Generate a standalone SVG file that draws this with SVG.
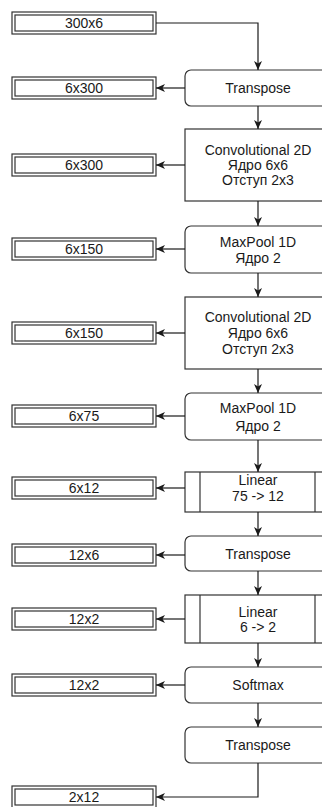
<svg xmlns="http://www.w3.org/2000/svg" width="322" height="807" viewBox="0 0 322 807">
<style>
text{font-family:"Liberation Sans",Arial,sans-serif;font-size:14px;fill:#1a1a1a;text-anchor:middle}
.node{fill:#fff;stroke:#333;stroke-width:1.2}
.dbl{fill:none;stroke:#333;stroke-width:1.2}
.edge{fill:none;stroke:#1a1a1a;stroke-width:1.2}
</style>
<defs>
<marker id="arr" markerUnits="userSpaceOnUse" markerWidth="10" markerHeight="10" refX="9" refY="4" orient="auto">
<path d="M0,0 L9,4 L0,8 L2.5,4 z" fill="#1a1a1a"/>
</marker>
</defs>
<rect width="322" height="807" fill="#fff"/>

<g id="d-300x6"><rect class="node" x="12" y="12" width="144" height="22"/><rect class="dbl" x="15" y="15" width="138" height="16"/><text x="84" y="28">300x6</text></g>
<g id="d-6x300a"><rect class="node" x="12" y="77" width="144" height="22"/><rect class="dbl" x="15" y="80" width="138" height="16"/><text x="84" y="93">6x300</text></g>
<g id="d-6x300b"><rect class="node" x="12" y="154" width="144" height="22"/><rect class="dbl" x="15" y="157" width="138" height="16"/><text x="84" y="170">6x300</text></g>
<g id="d-6x150a"><rect class="node" x="12" y="238" width="144" height="22"/><rect class="dbl" x="15" y="241" width="138" height="16"/><text x="84" y="254">6x150</text></g>
<g id="d-6x150b"><rect class="node" x="12" y="322" width="144" height="22"/><rect class="dbl" x="15" y="325" width="138" height="16"/><text x="84" y="338">6x150</text></g>
<g id="d-6x75"><rect class="node" x="12" y="405" width="144" height="22"/><rect class="dbl" x="15" y="408" width="138" height="16"/><text x="84" y="421">6x75</text></g>
<g id="d-6x12"><rect class="node" x="12" y="477" width="144" height="22"/><rect class="dbl" x="15" y="480" width="138" height="16"/><text x="84" y="493">6x12</text></g>
<g id="d-12x6"><rect class="node" x="12" y="544" width="144" height="22"/><rect class="dbl" x="15" y="547" width="138" height="16"/><text x="84" y="560">12x6</text></g>
<g id="d-12x2a"><rect class="node" x="12" y="608" width="144" height="22"/><rect class="dbl" x="15" y="611" width="138" height="16"/><text x="84" y="624">12x2</text></g>
<g id="d-12x2b"><rect class="node" x="12" y="674" width="144" height="22"/><rect class="dbl" x="15" y="677" width="138" height="16"/><text x="84" y="690">12x2</text></g>
<g id="d-2x12"><rect class="node" x="12" y="786" width="144" height="22"/><rect class="dbl" x="15" y="789" width="138" height="16"/><text x="84" y="802">2x12</text></g>

<g id="n-transpose1"><rect class="node" x="185" y="70" width="146" height="36" rx="6"/><text x="258" y="93">Transpose</text></g>
<g id="n-conv1"><rect class="node" x="185" y="129" width="146" height="72"/><text x="258" y="155">Convolutional 2D</text><text x="258" y="170">Ядро 6x6</text><text x="258" y="185">Отступ 2x3</text></g>
<g id="n-maxpool1"><rect class="node" x="185" y="226" width="146" height="47" rx="6"/><text x="258" y="247">MaxPool 1D</text><text x="258" y="263">Ядро 2</text></g>
<g id="n-conv2"><rect class="node" x="185" y="297" width="146" height="72"/><text x="258" y="322">Convolutional 2D</text><text x="258" y="338">Ядро 6x6</text><text x="258" y="354">Отступ 2x3</text></g>
<g id="n-maxpool2"><rect class="node" x="185" y="393" width="146" height="47" rx="6"/><text x="258" y="413">MaxPool 1D</text><text x="258" y="431">Ядро 2</text></g>
<g id="n-linear1"><rect class="node" x="185" y="472" width="146" height="40"/><line class="dbl" x1="200" y1="472" x2="200" y2="512"/><line class="dbl" x1="315" y1="472" x2="315" y2="512"/><text x="258" y="485">Linear</text><text x="258" y="501">75 -&gt; 12</text></g>
<g id="n-transpose2"><rect class="node" x="185" y="536" width="146" height="35" rx="6"/><text x="258" y="559">Transpose</text></g>
<g id="n-linear2"><rect class="node" x="185" y="595" width="146" height="48"/><line class="dbl" x1="200" y1="595" x2="200" y2="643"/><line class="dbl" x1="315" y1="595" x2="315" y2="643"/><text x="258" y="617">Linear</text><text x="258" y="632">6 -&gt; 2</text></g>
<g id="n-softmax"><rect class="node" x="185" y="667" width="146" height="36" rx="6"/><text x="258" y="690">Softmax</text></g>
<g id="n-transpose3"><rect class="node" x="185" y="727" width="146" height="36" rx="6"/><text x="258" y="750">Transpose</text></g>

<g id="connectors">
<path class="edge" d="M156,23 H258 V70" marker-end="url(#arr)"/>
<path class="edge" d="M185,88 H156" marker-end="url(#arr)"/>
<path class="edge" d="M258,106 V129" marker-end="url(#arr)"/>
<path class="edge" d="M185,165 H156" marker-end="url(#arr)"/>
<path class="edge" d="M258,201 V226" marker-end="url(#arr)"/>
<path class="edge" d="M185,249 H156" marker-end="url(#arr)"/>
<path class="edge" d="M258,273 V297" marker-end="url(#arr)"/>
<path class="edge" d="M185,333 H156" marker-end="url(#arr)"/>
<path class="edge" d="M258,369 V393" marker-end="url(#arr)"/>
<path class="edge" d="M185,416 H156" marker-end="url(#arr)"/>
<path class="edge" d="M258,440 V472" marker-end="url(#arr)"/>
<path class="edge" d="M185,488 H156" marker-end="url(#arr)"/>
<path class="edge" d="M258,512 V536" marker-end="url(#arr)"/>
<path class="edge" d="M185,555 H156" marker-end="url(#arr)"/>
<path class="edge" d="M258,571 V595" marker-end="url(#arr)"/>
<path class="edge" d="M185,619 H156" marker-end="url(#arr)"/>
<path class="edge" d="M258,643 V667" marker-end="url(#arr)"/>
<path class="edge" d="M185,685 H156" marker-end="url(#arr)"/>
<path class="edge" d="M258,703 V727" marker-end="url(#arr)"/>
<path class="edge" d="M258,763 V797 H156" marker-end="url(#arr)"/>
</g>
</svg>
